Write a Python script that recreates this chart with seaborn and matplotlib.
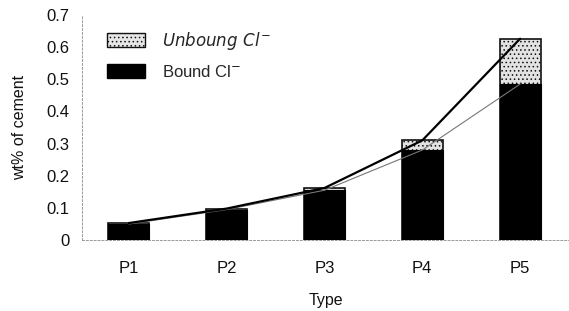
import numpy as np
import pandas as pd
import matplotlib
matplotlib.use("Agg")
import matplotlib.pyplot as plt
import seaborn as sns
from matplotlib.patches import Patch
from matplotlib.ticker import FuncFormatter

# Data
types = ["P1", "P2", "P3", "P4", "P5"]
bound = [0.050, 0.095, 0.155, 0.280, 0.485]
total = [0.053, 0.098, 0.162, 0.310, 0.626]

df = pd.DataFrame({"Type": types, "bound": bound, "total": total})

sns.set_style("white")
plt.rcParams["font.family"] = ["Liberation Sans", "DejaVu Sans"]
plt.rcParams["hatch.color"] = "#9a9a9a"
plt.rcParams["hatch.linewidth"] = 0.6

fig = plt.figure(figsize=(5.69, 3.11), dpi=100)
ax = fig.add_axes([0.144, 0.228, 0.856, 0.724])

# stacked bars: total (unbound on top) then bound
sns.barplot(data=df, x="Type", y="total", color="#e2e2e2", edgecolor="#111111",
            linewidth=1.2, width=0.42, saturation=1, hatch="....", ax=ax)
sns.barplot(data=df, x="Type", y="bound", color="black", edgecolor="black",
            linewidth=0.8, width=0.42, saturation=1, ax=ax)

# trend lines
sns.pointplot(data=df, x="Type", y="bound", color="#777777", markers="",
              linewidth=0.8, errorbar=None, ax=ax)
sns.pointplot(data=df, x="Type", y="total", color="black", markers="",
              linewidth=1.6, errorbar=None, ax=ax)

ax.set_xlim(-0.48, 4.5)
ax.set_ylim(0, 0.7)
ax.set_yticks(np.arange(0, 0.71, 0.1))
ax.yaxis.set_major_formatter(FuncFormatter(lambda v, p: "0" if abs(v) < 1e-9 else f"{v:.1f}"))

for s in ["top", "right"]:
    ax.spines[s].set_visible(False)
for s in ["left", "bottom"]:
    ax.spines[s].set_linestyle((0, (2, 2)))
    ax.spines[s].set_color("#999999")
    ax.spines[s].set_linewidth(0.7)

ax.tick_params(axis="y", direction="in", length=4, width=0.7, color="#888888",
               labelsize=12, pad=9, labelcolor="#111111")
ax.tick_params(axis="x", length=0, labelsize=12, pad=15, labelcolor="#111111")

ax.set_xlabel("Type", fontsize=11.5, labelpad=12, color="#111111")
ax.set_ylabel("wt% of cement", fontsize=11.5, labelpad=14, color="#111111")

handles = [
    Patch(facecolor="#e6e6e6", edgecolor="#111111", linewidth=1.0, hatch="...."),
    Patch(facecolor="black", edgecolor="black"),
]
labels = [r"$\it{Unboung\ Cl}^{-}$", r"Bound Cl$^{-}$"]
ax.legend(handles, labels, loc="upper left", bbox_to_anchor=(0.02, 1.0),
          frameon=False, fontsize=12, handlelength=2.3, handleheight=0.9,
          labelspacing=0.7, handletextpad=1.0)

fig.savefig("out.png", dpi=100)
print("saved out.png")
